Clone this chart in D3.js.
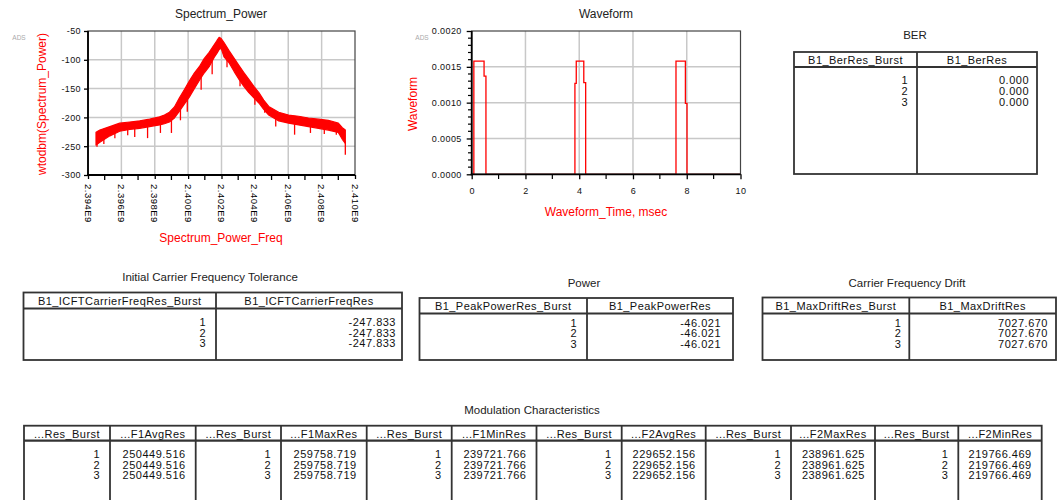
<!DOCTYPE html>
<html><head><meta charset="utf-8">
<script src="https://cdn.jsdelivr.net/npm/d3@7"></script>
<style>
html,body{margin:0;padding:0;background:#fff;}
svg{display:block;font-family:"Liberation Sans",Arial,sans-serif;}
</style></head><body>
<svg id="chart" width="1058" height="500"></svg>
<script>
// ---- Spectrum_Power: band envelope of the noisy trace (GHz, dBm) ----
const specFreqGHz = [2.39448, 2.39471, 2.39531, 2.39590, 2.39650, 2.39710, 2.39769, 2.39829, 2.39858, 2.39888,
  2.39918, 2.39948, 2.39977, 2.40007, 2.40037, 2.40067, 2.40096, 2.40126, 2.40156, 2.40174,
  2.40186, 2.40198, 2.40215, 2.40245, 2.40275, 2.40305, 2.40334, 2.40364, 2.40394, 2.40424,
  2.40453, 2.40483, 2.40543, 2.40602, 2.40662, 2.40721, 2.40781, 2.40840, 2.40900, 2.40924, 2.40942];
const specUpper = [-226, -222, -216, -210, -208, -206, -203, -199, -196, -191,
  -182, -166, -152, -137, -123, -112, -98, -87, -74, -66,
  -61, -63, -70, -84, -97, -110, -122, -134, -146, -157,
  -170, -181, -191, -196, -198, -201, -203, -205, -210, -218, -222];
const specLower = [-248, -243, -232, -224, -221, -219, -216, -213, -211, -208,
  -201, -189, -177, -165, -150, -136, -123, -112, -96, -88,
  -82, -80, -95, -105, -120, -134, -146, -157, -166, -175,
  -186, -196, -206, -210, -213, -216, -219, -222, -226, -238, -245];
// downward noise spikes below the band
const dipFreqGHz = [2.39454, 2.39495, 2.39561, 2.39638, 2.39680, 2.39757, 2.39834, 2.39900, 2.39954, 2.39995,
  2.40078, 2.40144, 2.40233, 2.40311, 2.40400, 2.40459, 2.40525, 2.40638, 2.40733, 2.40816, 2.40888, 2.40942];
const dipLow = [-251, -246, -236, -231, -234, -236, -227, -227, -205, -190,
  -152, -125, -113, -146, -178, -192, -216, -230, -227, -229, -230, -265];
const specXTicks = [2.394, 2.396, 2.398, 2.400, 2.402, 2.404, 2.406, 2.408, 2.410];
const specXMinor = [2.395, 2.397, 2.399, 2.401, 2.403, 2.405, 2.407, 2.409];
const specYTicks = [-300, -250, -200, -150, -100, -50];

// ---- Waveform: stepped envelope (msec, V) ----
const waveTimeMs = [0, 0.08, 0.46, 0.53, 3.84, 3.89, 4.17, 4.24, 7.60, 7.95, 8.01, 10];
const waveValue  = [0, 0.00158, 0.00137, 0, 0.00127, 0.00158, 0.00128, 0, 0.00158, 0.00099, 0, 0];
const waveXTicks = [0, 2, 4, 6, 8, 10];
const waveXMinor = [1, 3, 5, 7, 9];
const waveYTicks = [0, 0.0005, 0.0010, 0.0015, 0.0020];
const waveYMinor = d3.range(0, 21).map(i => i * 0.0001).filter((v, i) => i % 5 !== 0);

// ---- Measurement tables ----
const burst = [1, 2, 3];
const berRes = [0.000, 0.000, 0.000];
const icftRes = [-247.833, -247.833, -247.833];
const peakPowerRes = [-46.021, -46.021, -46.021];
const maxDriftRes = [7027.670, 7027.670, 7027.670];
const f1AvgRes = [250449.516, 250449.516, 250449.516];
const f1MaxRes = [259758.719, 259758.719, 259758.719];
const f1MinRes = [239721.766, 239721.766, 239721.766];
const f2AvgRes = [229652.156, 229652.156, 229652.156];
const f2MaxRes = [238961.625, 238961.625, 238961.625];
const f2MinRes = [219766.469, 219766.469, 219766.469];

const svg = d3.select("#chart");
svg.append("rect").attr("width", 1058).attr("height", 500).attr("fill", "#fff");

const RED = "#ff0000";
// plain ASCII hyphen for negative numbers
const loc = d3.formatLocale({ decimal: ".", thousands: ",", grouping: [3], currency: ["$", ""], minus: "-" });
const fmt3 = loc.format(".3f");
const fmtInt = loc.format("d");

function plotFrame(g, x, y, xTicks, yTicks) {
  const [x0, x1] = x.range(), [y0, y1] = y.range();
  g.append("g").selectAll("line").data(xTicks.slice(1, -1)).join("line")
    .attr("x1", d => x(d)).attr("x2", d => x(d)).attr("y1", y1).attr("y2", y0)
    .attr("stroke", "#c8c8c8").attr("stroke-width", 1.5);
  g.append("g").selectAll("line").data(yTicks.slice(1, -1)).join("line")
    .attr("y1", d => y(d)).attr("y2", d => y(d)).attr("x1", x0).attr("x2", x1)
    .attr("stroke", "#c8c8c8").attr("stroke-width", 1.5);
}
function plotBorder(g, x, y) {
  const [x0, x1] = x.range(), [y0, y1] = y.range();
  g.append("rect").attr("x", x0).attr("y", y1).attr("width", x1 - x0).attr("height", y0 - y1)
    .attr("fill", "none").attr("stroke", "#444").attr("stroke-width", 1.2);
  g.append("line").attr("x1", x0).attr("x2", x0).attr("y1", y1).attr("y2", y0 + 1)
    .attr("stroke", "#000").attr("stroke-width", 1.8);
  g.append("line").attr("x1", x0 - 1).attr("x2", x1).attr("y1", y0).attr("y2", y0)
    .attr("stroke", "#000").attr("stroke-width", 1.8);
}
function styleAxis(a) {
  a.select(".domain").remove();
  a.selectAll(".tick line").attr("stroke", "#000").attr("stroke-width", 1.3);
  a.selectAll(".tick text").attr("fill", "#111").attr("font-size", 9)
    .attr("letter-spacing", 0.4).attr("font-family", "Liberation Sans, Arial, sans-serif");
}

// ================= Spectrum_Power =================
{
  const g = svg.append("g");
  const x = d3.scaleLinear().domain([2.394, 2.410]).range([88, 355]);
  const y = d3.scaleLinear().domain([-300, -50]).range([175, 31]);
  plotFrame(g, x, y, specXTicks, specYTicks);

  const band = specFreqGHz.map((f, i) => ({ f, hi: specUpper[i], lo: specLower[i] }));
  g.append("path").datum(band)
    .attr("d", d3.area().x(d => x(d.f)).y0(d => y(d.lo)).y1(d => y(d.hi)))
    .attr("fill", RED).attr("stroke", RED).attr("stroke-width", 1.2).attr("stroke-linejoin", "round");
  const lowerAt = d3.scaleLinear().domain(specFreqGHz).range(specLower);
  g.append("g").selectAll("line").data(dipFreqGHz).join("line")
    .attr("x1", d => x(d)).attr("x2", d => x(d))
    .attr("y1", d => y(lowerAt(d)) - 2).attr("y2", (d, i) => y(dipLow[i]))
    .attr("stroke", RED).attr("stroke-width", 1.3);

  plotBorder(g, x, y);

  const ya = g.append("g").attr("transform", "translate(88,0)")
    .call(d3.axisLeft(y).tickValues(specYTicks).tickSize(4).tickPadding(3).tickFormat(fmtInt));
  styleAxis(ya);
  const xa = g.append("g").attr("transform", "translate(0,175)")
    .call(d3.axisBottom(x).tickValues(specXTicks).tickSize(4).tickFormat(""));
  styleAxis(xa);
  g.append("g").selectAll("line").data(specXMinor).join("line")
    .attr("x1", d => x(d)).attr("x2", d => x(d)).attr("y1", 176).attr("y2", 180)
    .attr("stroke", "#000").attr("stroke-width", 1.3);
  g.append("g").selectAll("text").data(specXTicks).join("text")
    .attr("transform", d => `translate(${x(d)},184) rotate(90)`)
    .attr("dominant-baseline", "central").attr("font-size", 9.5).attr("letter-spacing", 0.5)
    .attr("fill", "#000").text(d => d.toFixed(3) + "E9");

  g.append("text").attr("x", 221).attr("y", 14).attr("text-anchor", "middle")
    .attr("dominant-baseline", "central").attr("font-size", 12).attr("fill", "#222").text("Spectrum_Power");
  g.append("text").attr("x", 221).attr("y", 238).attr("text-anchor", "middle")
    .attr("dominant-baseline", "central").attr("font-size", 12).attr("fill", RED).text("Spectrum_Power_Freq");
  g.append("text").attr("transform", "translate(42,104) rotate(-90)").attr("text-anchor", "middle")
    .attr("dominant-baseline", "central").attr("font-size", 12).attr("fill", RED).text("wtodbm(Spectrum_Power)");
  g.append("text").attr("x", 19).attr("y", 37).attr("text-anchor", "middle")
    .attr("dominant-baseline", "central").attr("font-size", 6.5).attr("fill", "#aaa").text("ADS");
}

// ================= Waveform =================
{
  const g = svg.append("g");
  const x = d3.scaleLinear().domain([0, 10]).range([471.7, 740.5]);
  const y = d3.scaleLinear().domain([0, 0.002]).range([174.3, 31]);
  plotFrame(g, x, y, waveXTicks, waveYTicks);

  g.append("path").datum(waveTimeMs.map((t, i) => [t, waveValue[i]]))
    .attr("d", d3.line().x(d => x(d[0])).y(d => y(d[1])).curve(d3.curveStepAfter))
    .attr("fill", "none").attr("stroke", RED).attr("stroke-width", 1.3);

  plotBorder(g, x, y);

  const ya = g.append("g").attr("transform", "translate(471.7,0)")
    .call(d3.axisLeft(y).tickValues(waveYTicks).tickSize(5).tickPadding(5).tickFormat(loc.format(".4f")));
  styleAxis(ya);
  g.append("g").selectAll("line").data(waveYMinor).join("line")
    .attr("x1", 468).attr("x2", 471.7).attr("y1", d => y(d)).attr("y2", d => y(d))
    .attr("stroke", "#000").attr("stroke-width", 1.2);
  const xa = g.append("g").attr("transform", "translate(0,174.3)")
    .call(d3.axisBottom(x).tickValues(waveXTicks).tickSize(5).tickPadding(8).tickFormat(fmtInt));
  styleAxis(xa);
  g.append("g").selectAll("line").data(waveXMinor).join("line")
    .attr("x1", d => x(d)).attr("x2", d => x(d)).attr("y1", 175).attr("y2", 179)
    .attr("stroke", "#000").attr("stroke-width", 1.2);

  g.append("text").attr("x", 606).attr("y", 14).attr("text-anchor", "middle")
    .attr("dominant-baseline", "central").attr("font-size", 12).attr("fill", "#222").text("Waveform");
  g.append("text").attr("x", 606).attr("y", 212).attr("text-anchor", "middle")
    .attr("dominant-baseline", "central").attr("font-size", 12).attr("fill", RED).text("Waveform_Time, msec");
  g.append("text").attr("transform", "translate(413,104) rotate(-90)").attr("text-anchor", "middle")
    .attr("dominant-baseline", "central").attr("font-size", 12).attr("fill", RED).text("Waveform");
  g.append("text").attr("x", 422).attr("y", 37).attr("text-anchor", "middle")
    .attr("dominant-baseline", "central").attr("font-size", 6.5).attr("fill", "#aaa").text("ADS");
}

// ================= Tables =================
function drawTable(t) {
  const g = svg.append("g");
  const edges = [t.left, ...t.dividers, t.right];
  g.append("text").attr("x", t.titleX).attr("y", t.titleY).attr("text-anchor", "middle")
    .attr("dominant-baseline", "central").attr("font-size", 11.5).attr("fill", "#222").text(t.title);
  g.append("rect").attr("x", t.left).attr("y", t.top).attr("width", t.right - t.left)
    .attr("height", t.bottom - t.top).attr("fill", "#fff").attr("stroke", "#333").attr("stroke-width", 1.8);
  g.append("g").selectAll("line").data(t.dividers).join("line")
    .attr("x1", d => d).attr("x2", d => d).attr("y1", t.top).attr("y2", t.bottom)
    .attr("stroke", "#333").attr("stroke-width", 1.8);
  g.append("line").attr("x1", t.left).attr("x2", t.right).attr("y1", t.headBottom).attr("y2", t.headBottom)
    .attr("stroke", "#333").attr("stroke-width", 2.2);
  t.headers.forEach((h, c) => {
    g.append("text").attr("x", (edges[c] + edges[c + 1]) / 2).attr("y", (t.top + t.headBottom) / 2 + 0.5)
      .attr("text-anchor", "middle").attr("dominant-baseline", "central")
      .attr("font-size", 11).attr("letter-spacing", 0.45).attr("fill", "#111").text(h);
  });
  t.columns.forEach((col, c) => {
    g.append("g").selectAll("text").data(col.values).join("text")
      .attr("x", edges[c + 1] - t.pad[c]).attr("y", (d, i) => t.firstRow + i * t.rowStep)
      .attr("text-anchor", "end").attr("dominant-baseline", "central")
      .attr("font-size", 11).attr("letter-spacing", 0.5).attr("fill", "#111")
      .text(d => col.format(d));
  });
}

drawTable({ title: "BER", titleX: 915, titleY: 35, left: 794, right: 1037, top: 52, headBottom: 67, bottom: 174,
  dividers: [917], headers: ["B1_BerRes_Burst", "B1_BerRes"],
  columns: [{ values: burst, format: fmtInt }, { values: berRes, format: fmt3 }],
  pad: [9, 8], firstRow: 80, rowStep: 10.8 });

drawTable({ title: "Initial Carrier Frequency Tolerance", titleX: 210, titleY: 277, left: 23.5, right: 402, top: 292.5, headBottom: 308.5, bottom: 360,
  dividers: [216], headers: ["B1_ICFTCarrierFreqRes_Burst", "B1_ICFTCarrierFreqRes"],
  columns: [{ values: burst, format: fmtInt }, { values: icftRes, format: fmt3 }],
  pad: [10, 6], firstRow: 321.7, rowStep: 10.8 });

drawTable({ title: "Power", titleX: 584, titleY: 283, left: 419.5, right: 733, top: 298, headBottom: 313.5, bottom: 360,
  dividers: [587], headers: ["B1_PeakPowerRes_Burst", "B1_PeakPowerRes"],
  columns: [{ values: burst, format: fmtInt }, { values: peakPowerRes, format: fmt3 }],
  pad: [10, 12], firstRow: 322.7, rowStep: 10.5 });

drawTable({ title: "Carrier Frequency Drift", titleX: 907, titleY: 283, left: 762.5, right: 1056, top: 297.5, headBottom: 313.5, bottom: 360,
  dividers: [909.3], headers: ["B1_MaxDriftRes_Burst", "B1_MaxDriftRes"],
  columns: [{ values: burst, format: fmtInt }, { values: maxDriftRes, format: fmt3 }],
  pad: [8, 8], firstRow: 322.7, rowStep: 10.5 });

{
  const modVals = [f1AvgRes, f1MaxRes, f1MinRes, f2AvgRes, f2MaxRes, f2MinRes];
  const modNames = ["...F1AvgRes", "...F1MaxRes", "...F1MinRes", "...F2AvgRes", "...F2MaxRes", "...F2MinRes"];
  const headers = [], columns = [];
  modVals.forEach((v, i) => {
    headers.push("...Res_Burst", modNames[i]);
    columns.push({ values: burst, format: fmtInt }, { values: v, format: fmt3 });
  });
  drawTable({ title: "Modulation Characteristics", titleX: 532, titleY: 410, left: 24, right: 1041.7, top: 425.7, headBottom: 440.7, bottom: 510,
    dividers: [110, 195.7, 281, 366.7, 451.7, 536.5, 621.7, 705.7, 791, 875, 958.3],
    headers, columns, pad: d3.range(12).map(() => 10), firstRow: 454.3, rowStep: 10.4 });
}
</script></body></html>
